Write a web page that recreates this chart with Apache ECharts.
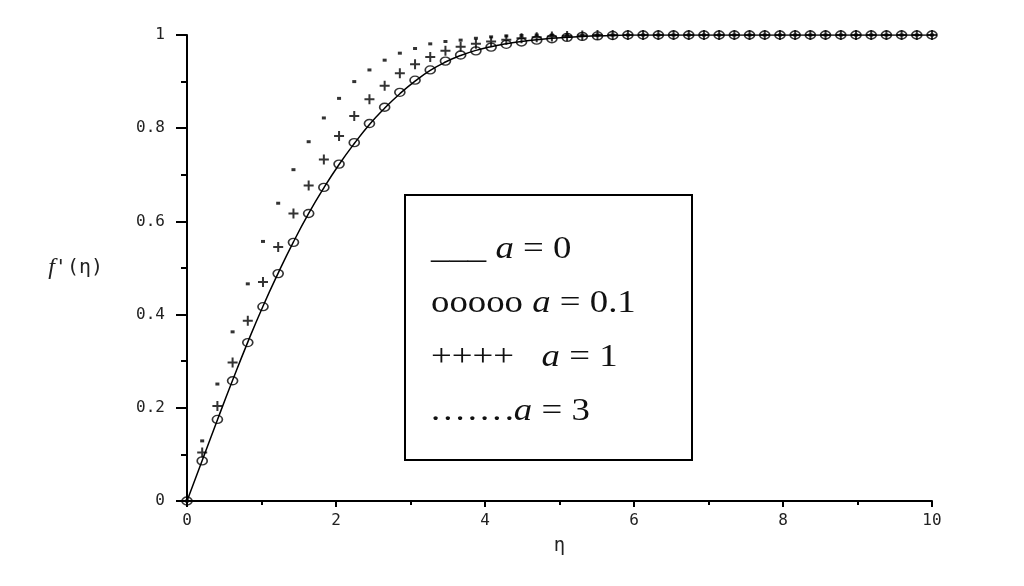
<!DOCTYPE html>
<html>
<head>
<meta charset="utf-8">
<script src="https://cdn.jsdelivr.net/npm/echarts@6/dist/echarts.min.js"></script>
<style>
  html, body { margin: 0; padding: 0; background: #fff; }
  #chart { width: 1024px; height: 586px; }
</style>
</head>
<body>
<div id="chart"></div>
<script>
// eta grid (50 points from 0 to 10)
var eta = [0, 0.204, 0.408, 0.612, 0.816, 1.020, 1.224, 1.429, 1.633, 1.837,
  2.041, 2.245, 2.449, 2.653, 2.857, 3.061, 3.265, 3.469, 3.673, 3.878,
  4.082, 4.286, 4.490, 4.694, 4.898, 5.102, 5.306, 5.510, 5.714, 5.918,
  6.122, 6.327, 6.531, 6.735, 6.939, 7.143, 7.347, 7.551, 7.755, 7.959,
  8.163, 8.367, 8.571, 8.776, 8.980, 9.184, 9.388, 9.592, 9.796, 10]

// f'(eta) for a = 0 (solid line)
var a0 = [0, 0.087, 0.174, 0.259, 0.341, 0.418, 0.489, 0.556, 0.617, 0.672,
  0.722, 0.767, 0.808, 0.843, 0.874, 0.901, 0.924, 0.942, 0.956, 0.967,
  0.975, 0.981, 0.986, 0.990, 0.993, 0.995, 0.997, 0.998, 0.999, 1,
  1, 1, 1, 1, 1, 1, 1, 1, 1, 1,
  1, 1, 1, 1, 1, 1, 1, 1, 1, 1]

// a = 0.1 (circles)
var a01 = [0, 0.086, 0.175, 0.258, 0.340, 0.417, 0.488, 0.555, 0.617, 0.673,
  0.723, 0.769, 0.810, 0.845, 0.877, 0.903, 0.925, 0.944, 0.957, 0.966,
  0.974, 0.980, 0.985, 0.989, 0.992, 0.995, 0.997, 0.998, 0.999, 1,
  1, 1, 1, 1, 1, 1, 1, 1, 1, 1,
  1, 1, 1, 1, 1, 1, 1, 1, 1, 1]

// a = 1 (plus)
var a1 = [0, 0.104, 0.204, 0.297, 0.387, 0.470, 0.545, 0.617, 0.677, 0.733,
  0.783, 0.826, 0.862, 0.891, 0.918, 0.937, 0.953, 0.966, 0.975, 0.981,
  0.986, 0.990, 0.993, 0.995, 0.997, 0.998, 0.999, 1, 1, 1,
  1, 1, 1, 1, 1, 1, 1, 1, 1, 1,
  1, 1, 1, 1, 1, 1, 1, 1, 1, 1]

// a = 3 (dots)
var a3 = [0, 0.129, 0.251, 0.363, 0.466, 0.557, 0.639, 0.711, 0.771, 0.822,
  0.864, 0.900, 0.925, 0.946, 0.961, 0.971, 0.981, 0.986, 0.989, 0.993,
  0.996, 0.998, 0.999, 1, 1, 1, 1, 1, 1, 1,
  1, 1, 1, 1, 1, 1, 1, 1, 1, 1,
  1, 1, 1, 1, 1, 1, 1, 1, 1, 1]

var legendRows = [
  '___ {a|a} = 0',
  'ooooo {a|a} = 0.1',
  '++++   {a|a} = 1',
  '.\u200a.\u200a.\u200a.\u200a.\u200a.\u200a.{a|a} = 3'
]

function pairs(ys) {
  return eta.map(function (x, i) { return [x, ys[i]] })
}

var chart = echarts.init(document.getElementById('chart'))
var labelFont = 'DejaVu Sans Mono'
var serif = 'Liberation Serif'

chart.setOption({
  animation: false,
  backgroundColor: '#fff',
  grid: {
    left: 187,
    right: 92,
    top: 35,
    bottom: 85
  },
  xAxis: {
    type: 'value',
    min: 0,
    max: 10,
    interval: 2,
    name: 'η',
    nameLocation: 'middle',
    nameGap: 36,
    nameTextStyle: { fontFamily: labelFont, fontSize: 19, color: '#222' },
    axisLine: { lineStyle: { color: '#000', width: 2 } },
    axisTick: { inside: false, length: 6, lineStyle: { color: '#000', width: 2 } },
    minorTick: { show: true, splitNumber: 2, length: 4, lineStyle: { color: '#000', width: 2 } },
    axisLabel: { fontFamily: labelFont, fontSize: 16, color: '#222', margin: 12 },
    splitLine: { show: false }
  },
  yAxis: {
    type: 'value',
    min: 0,
    max: 1,
    interval: 0.2,
    name: '{f|f}\'(η)',
    nameLocation: 'middle',
    nameRotate: 0,
    nameGap: 84,
    nameTextStyle: {
      fontFamily: labelFont, fontSize: 20, color: '#222',
      rich: { f: { fontFamily: serif, fontStyle: 'italic', fontSize: 24, color: '#222' } }
    },
    axisLine: { lineStyle: { color: '#000', width: 2 } },
    axisTick: { inside: false, length: 11, lineStyle: { color: '#000', width: 2 } },
    minorTick: { show: true, splitNumber: 2, length: 6, lineStyle: { color: '#000', width: 2 } },
    axisLabel: { fontFamily: labelFont, fontSize: 16, color: '#222', margin: 22 },
    splitLine: { show: false }
  },
  graphic: [
    {
      type: 'rect',
      z: 100,
      shape: { x: 405, y: 195, width: 287, height: 265 },
      style: { fill: '#fff', stroke: '#000', lineWidth: 2 }
    }
  ].concat(legendRows.map(function (t, i) {
    return {
      type: 'text',
      z: 101,
      x: 431,
      y: 250 + i * 54,
      scaleX: 1.15,
      style: {
        text: t,
        fontFamily: serif,
        fontSize: 32,
        fill: '#111',
        verticalAlign: 'middle',
        rich: { a: { fontFamily: serif, fontStyle: 'italic', fontSize: 32, fill: '#111' } }
      }
    }
  })),
  series: [
    {
      name: 'a = 0',
      type: 'line',
      smooth: true,
      showSymbol: false,
      lineStyle: { color: '#000', width: 1.5 },
      data: pairs(a0)
    },
    {
      name: 'a = 0.1',
      type: 'scatter',
      symbol: 'circle',
      symbolSize: [10, 8],
      itemStyle: { color: 'rgba(0,0,0,0)', borderColor: '#000', borderWidth: 1.5 },
      data: pairs(a01)
    },
    {
      name: 'a = 1',
      type: 'scatter',
      symbol: 'path://M4,0H6V4H10V6H6V10H4V6H0V4H4Z',
      symbolSize: 10,
      itemStyle: { color: '#000' },
      data: pairs(a1)
    },
    {
      name: 'a = 3',
      type: 'scatter',
      symbol: 'rect',
      symbolSize: [4, 3],
      itemStyle: { color: '#000' },
      data: pairs(a3)
    }
  ]
})
</script>
</body>
</html>
